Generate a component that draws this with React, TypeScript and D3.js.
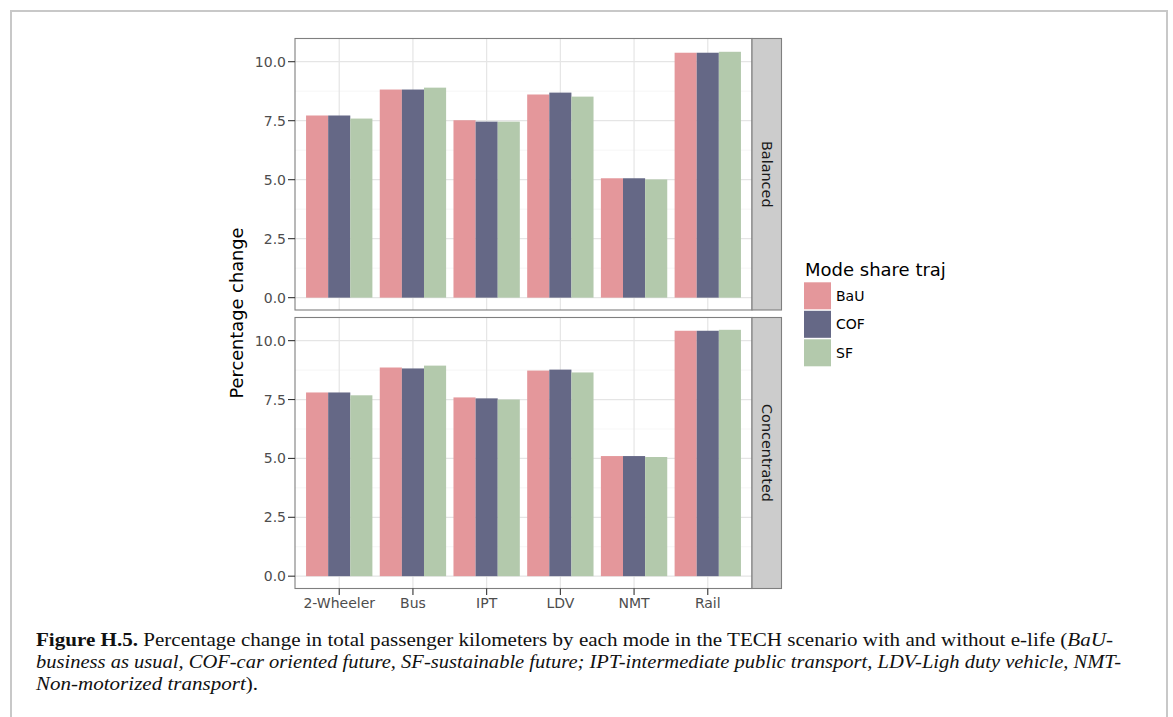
import React from "react";
import * as d3 from "d3";

const categories = ["2-Wheeler", "Bus", "IPT", "LDV", "NMT", "Rail"];
const series = ["BaU", "COF", "SF"];
const facets = ["Balanced", "Concentrated"];
const balancedBaU = [7.72, 8.82, 7.52, 8.61, 5.06, 10.38];
const balancedCOF = [7.72, 8.82, 7.46, 8.69, 5.06, 10.38];
const balancedSF = [7.59, 8.9, 7.46, 8.52, 5.01, 10.42];
const concBaU = [7.8, 8.86, 7.59, 8.73, 5.1, 10.42];
const concCOF = [7.8, 8.82, 7.55, 8.77, 5.1, 10.42];
const concSF = [7.68, 8.94, 7.5, 8.65, 5.06, 10.46];
const yTicks = [0, 2.5, 5, 7.5, 10];
const yMinor = [1.25, 3.75, 6.25, 8.75];
const colors = ["#E4979B", "#656886", "#B3C9AC"];

const facetData = [
  [balancedBaU, balancedCOF, balancedSF],
  [concBaU, concCOF, concSF],
];

export default function App() {
  const W = 1173, H = 717;
  const left = 295, right = 752, stripRight = 781.5;
  const panels = [
    { top: 38.5, bottom: 310 },
    { top: 317.5, bottom: 588.5 },
  ];
  const allVals = facetData.flat(2);
  const maxV = d3.max(allVals) as number;
  const pad = maxV * 0.05;
  const x = d3.scaleBand<string>().domain(categories).range([left, right]).paddingInner(0.1).paddingOuter(0.15);
  const xs = d3.scaleBand<string>().domain(series).range([0, x.bandwidth()]).padding(0);
  const sans = "'DejaVu Sans', sans-serif";
  const serif = "'Liberation Serif', serif";

  return (
    <svg width={W} height={H} style={{ display: "block", position: "absolute", left: 0, top: 0 }}>
      <rect x={0} y={0} width={W} height={H} fill="#fff" />
      <rect x={11} y={11} width={1156} height={720} fill="none" stroke="#C8C8C8" strokeWidth={2} />
      {panels.map((p, fi) => {
        const y = d3.scaleLinear().domain([-pad, maxV + pad]).range([p.bottom, p.top]);
        return (
          <g key={fi}>
            <rect x={left} y={p.top} width={right - left} height={p.bottom - p.top} fill="#fff" />
            {yMinor.map((t) => (
              <line key={"m" + t} x1={left} x2={right} y1={y(t)} y2={y(t)} stroke="#F4F4F4" strokeWidth={0.8} />
            ))}
            {yTicks.map((t) => (
              <line key={"g" + t} x1={left} x2={right} y1={y(t)} y2={y(t)} stroke="#E5E5E5" strokeWidth={1.2} />
            ))}
            {categories.map((c) => (
              <line key={"v" + c} x1={x(c)! + x.bandwidth() / 2} x2={x(c)! + x.bandwidth() / 2} y1={p.top} y2={p.bottom} stroke="#E5E5E5" strokeWidth={1.2} />
            ))}
            {facetData[fi].map((vals, si) =>
              vals.map((v, ci) => (
                <rect
                  key={si + "-" + ci}
                  x={x(categories[ci])! + xs(series[si])!}
                  width={xs.bandwidth()}
                  y={y(v)}
                  height={y(0) - y(v)}
                  fill={colors[si]}
                />
              ))
            )}
            <rect x={left} y={p.top} width={right - left} height={p.bottom - p.top} fill="none" stroke="#7F7F7F" strokeWidth={1.1} />
            <rect x={right} y={p.top} width={stripRight - right} height={p.bottom - p.top} fill="#CCCCCC" stroke="#7F7F7F" strokeWidth={1.1} />
            <text
              transform={`translate(${(right + stripRight) / 2},${(p.top + p.bottom) / 2}) rotate(90)`}
              textAnchor="middle"
              dominantBaseline="central"
              fontFamily={sans}
              fontSize={14.4}
              fill="#1A1A1A"
            >
              {facets[fi]}
            </text>
            {yTicks.map((t) => (
              <g key={"t" + t}>
                <line x1={left - 7} x2={left} y1={y(t)} y2={y(t)} stroke="#333" strokeWidth={1.1} />
                <text x={left - 9} y={y(t)} textAnchor="end" dominantBaseline="central" fontFamily={sans} fontSize={14} fill="#4D4D4D">
                  {d3.format(".1f")(t)}
                </text>
              </g>
            ))}
          </g>
        );
      })}
      {categories.map((c) => {
        const cx = x(c)! + x.bandwidth() / 2;
        return (
          <g key={"xl" + c}>
            <line x1={cx} x2={cx} y1={588.5} y2={595} stroke="#333" strokeWidth={1.1} />
            <text x={cx} y={608} textAnchor="middle" fontFamily={sans} fontSize={14} fill="#4D4D4D">
              {c}
            </text>
          </g>
        );
      })}
      <text
        transform={`translate(243,313) rotate(-90)`}
        textAnchor="middle"
        fontFamily={sans}
        fontSize={17.8}
        fill="#000"
      >
        Percentage change
      </text>
      <text x={805} y={276} fontFamily={sans} fontSize={18} fill="#000">
        Mode share traj
      </text>
      {series.map((s, i) => (
        <g key={"lg" + s}>
          <rect x={804} y={282.3 + i * 28.5} width={27} height={27} fill={colors[i]} />
          <text x={836} y={282.3 + i * 28.5 + 13.5} dominantBaseline="central" fontFamily={sans} fontSize={14} fill="#000">
            {s}
          </text>
        </g>
      ))}
      <text x={36} y={646} fontFamily={serif} fontSize={19} fill="#111" textLength={1077} lengthAdjust="spacingAndGlyphs">
        <tspan fontWeight="bold">Figure H.5.</tspan>
        <tspan> Percentage change in total passenger kilometers by each mode in the TECH scenario with and without e-life (</tspan>
        <tspan fontStyle="italic">BaU-</tspan>
      </text>
      <text x={36} y={668} fontFamily={serif} fontSize={19} fill="#111" fontStyle="italic" textLength={1085} lengthAdjust="spacingAndGlyphs">
        business as usual, COF-car oriented future, SF-sustainable future; IPT-intermediate public transport, LDV-Ligh duty vehicle, NMT-
      </text>
      <text x={36} y={690} fontFamily={serif} fontSize={19} fill="#111" textLength={222} lengthAdjust="spacingAndGlyphs">
        <tspan fontStyle="italic">Non-motorized transport</tspan>
        <tspan>).</tspan>
      </text>
    </svg>
  );
}
